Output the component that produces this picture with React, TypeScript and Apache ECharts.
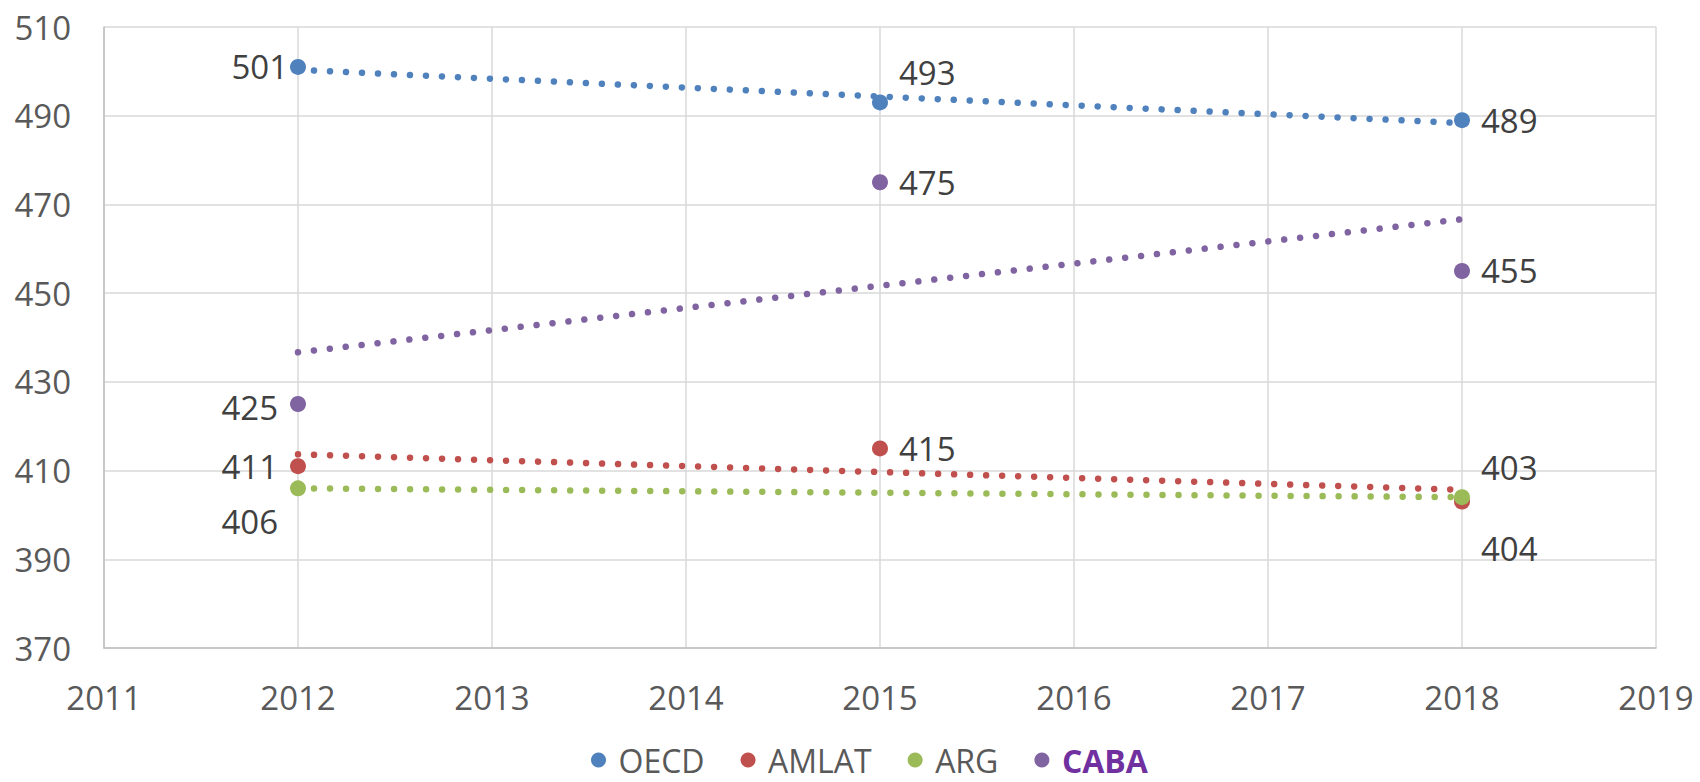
import React, { useEffect, useRef } from "react";
import * as echarts from "echarts";

// ---- data ----
const years = [2012, 2015, 2018];
const seriesNames = ["OECD", "AMLAT", "ARG", "CABA"];
const oecd = [501, 493, 489];
const amlat = [411, 415, 403];
const arg: (number | null)[] = [406, null, 404];
const caba = [425, 475, 455];
const xTicks = { min: 2011, max: 2019, interval: 1 };
const yTicks = { min: 370, max: 510, interval: 20 };

// ---- styles ----
const colors = ["#4F81BD", "#C0504D", "#9BBB59", "#8064A2"];
const FONT = "Open Sans";
const FS = 33;

// per-point label placement [series][point]
const labelPlacement: any[][] = [
  [
    { position: "left", distance: 2 },
    { position: "right", distance: 11, offset: [0, -30] },
    { position: "right", distance: 11 },
  ],
  [
    { position: "left", distance: 12 },
    { position: "right", distance: 11 },
    { position: "right", distance: 11, offset: [0, -34] },
  ],
  [
    { position: "left", distance: 12, offset: [0, 33] },
    null,
    { position: "right", distance: 11, offset: [0, 51] },
  ],
  [
    { position: "left", distance: 12, offset: [0, 3] },
    { position: "right", distance: 11 },
    { position: "right", distance: 11 },
  ],
];

function regression(xs: number[], ys: (number | null)[]) {
  const pts: [number, number][] = [];
  xs.forEach((x, i) => {
    const y = ys[i];
    if (y !== null && y !== undefined) pts.push([x, y]);
  });
  const n = pts.length;
  const mx = pts.reduce((s, p) => s + p[0], 0) / n;
  const my = pts.reduce((s, p) => s + p[1], 0) / n;
  let num = 0;
  let den = 0;
  pts.forEach(([x, y]) => {
    num += (x - mx) * (y - my);
    den += (x - mx) * (x - mx);
  });
  const slope = den === 0 ? 0 : num / den;
  const x0 = Math.min(...pts.map((p) => p[0]));
  const x1 = Math.max(...pts.map((p) => p[0]));
  return [
    [x0, my + slope * (x0 - mx)],
    [x1, my + slope * (x1 - mx)],
  ];
}

export default function App() {
  const ref = useRef<HTMLDivElement>(null);
  useEffect(() => {
    if (!ref.current) return;
    const chart = echarts.init(ref.current, null, { renderer: "svg" });
    const all = [oecd, amlat, arg, caba];

    const trendSeries = all.map((vals, i) => ({
      name: seriesNames[i] + " trend",
      type: "line",
      data: regression(years, vals),
      showSymbol: false,
      symbol: "none",
      silent: true,
      z: 2,
      lineStyle: {
        color: colors[i],
        width: 6.5,
        type: [0.01, 16],
        cap: "round",
      },
    }));

    const scatterSeries = all.map((vals, i) => ({
      name: seriesNames[i],
      type: "scatter",
      symbol: "circle",
      symbolSize: 16,
      z: 3,
      itemStyle: { color: colors[i], opacity: 1 },
      label: {
        show: true,
        fontFamily: FONT,
        fontSize: FS,
        color: "#404040",
        formatter: (p: any) => String(p.value[1]),
      },
      data: years
        .map((y, j) =>
          vals[j] === null
            ? null
            : {
                value: [y, vals[j]],
                label: { show: true, ...(labelPlacement[i][j] || {}) },
              }
        )
        .filter((d) => d !== null),
    }));

    chart.setOption({
      animation: false,
      backgroundColor: "#ffffff",
      grid: { left: 104, right: 44, top: 27, bottom: 134, containLabel: false },
      xAxis: {
        type: "value",
        min: xTicks.min,
        max: xTicks.max,
        interval: xTicks.interval,
        axisLine: { show: true, lineStyle: { color: "#BFBFBF", width: 1.5 } },
        axisTick: { show: false },
        splitLine: { show: true, lineStyle: { color: "#D9D9D9", width: 1.5 } },
        axisLabel: {
          fontFamily: FONT,
          fontSize: FS,
          color: "#595959",
          margin: 33,
          formatter: (v: number) => String(v),
        },
      },
      yAxis: {
        type: "value",
        min: yTicks.min,
        max: yTicks.max,
        interval: yTicks.interval,
        axisLine: { show: true, lineStyle: { color: "#BFBFBF", width: 1.5 } },
        axisTick: { show: false },
        splitLine: { show: true, lineStyle: { color: "#D9D9D9", width: 1.5 } },
        axisLabel: {
          fontFamily: FONT,
          fontSize: FS,
          color: "#595959",
          margin: 33,
        },
      },
      legend: {
        data: seriesNames.map((n) => ({ name: n, icon: "circle" })),
        left: 586,
        top: 739,
        itemWidth: 30,
        itemHeight: 15,
        itemGap: 36,
        textStyle: {
          fontFamily: FONT,
          fontSize: 32,
          color: "#595959",
          rich: {
            n: {
              fontFamily: FONT,
              fontSize: 32,
              color: "#595959",
            },
            b: {
              fontFamily: FONT,
              fontSize: 32,
              fontWeight: "bold",
              color: "#7030A0",
            },
          },
        },
        formatter: (name: string) =>
          name === "CABA" ? "{b|CABA}" : "{n|" + name + "}",
      },
      series: [...trendSeries, ...scatterSeries],
    });
    return () => chart.dispose();
  }, []);
  return (
    <div
      ref={ref}
      style={{ position: "fixed", left: 0, top: 0, width: 1700, height: 782 }}
    />
  );
}
